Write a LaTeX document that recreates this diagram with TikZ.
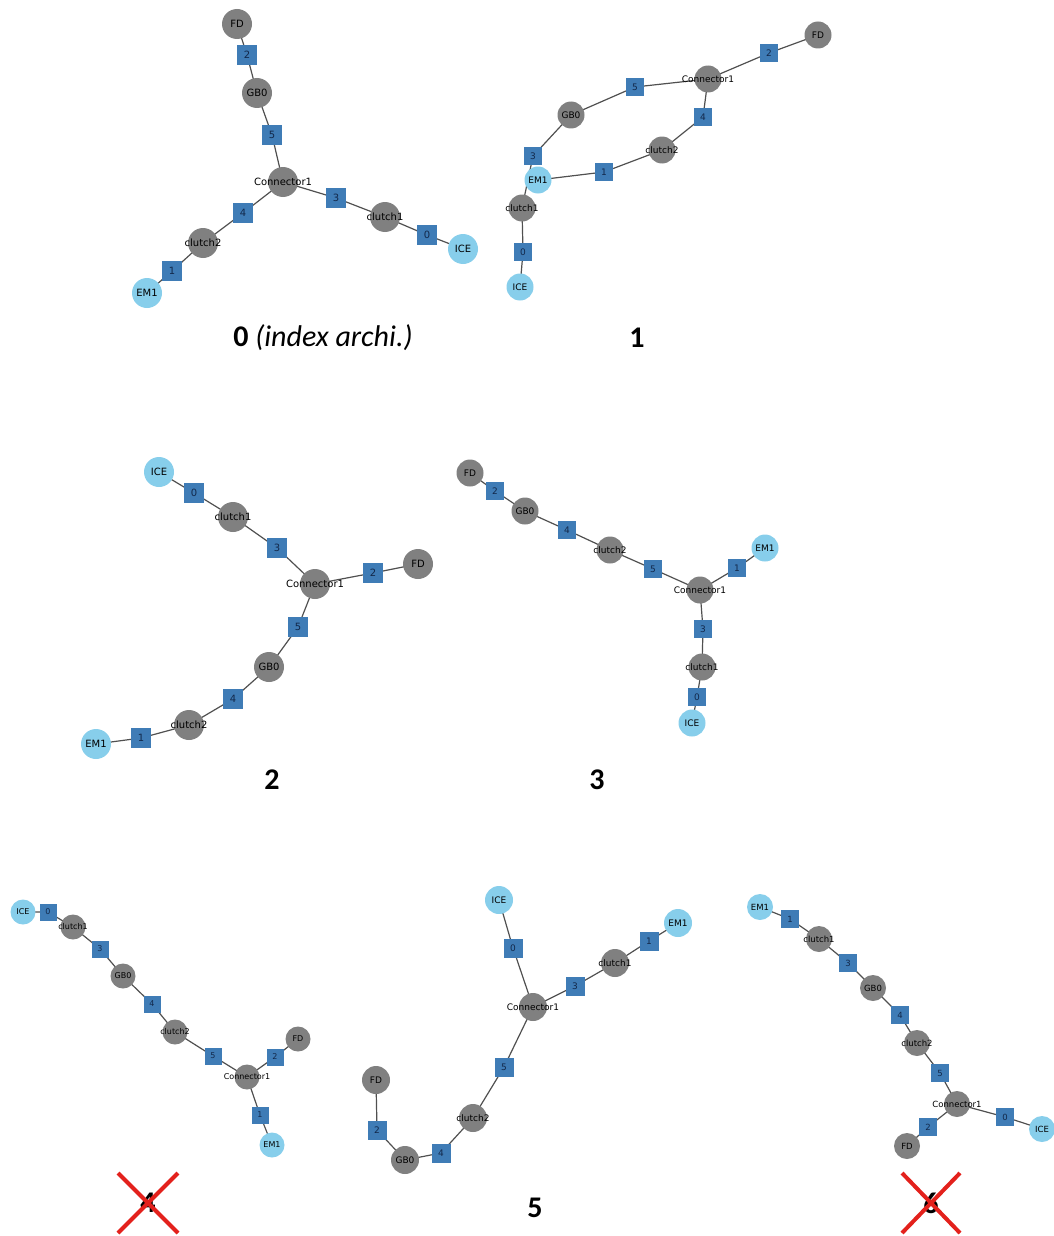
\documentclass[tikz,border=0pt]{standalone}
\usepackage{fontspec}
\setmainfont{Carlito}
\newfontfamily\dvfont{DejaVu Sans}
\usetikzlibrary{backgrounds}
\definecolor{cgray}{HTML}{808080}
\definecolor{csky}{HTML}{87CEEB}
\definecolor{cport}{HTML}{3F7CB6}
\definecolor{cedge}{HTML}{505050}
\definecolor{cporttext}{HTML}{12284A}
\definecolor{cred}{HTML}{E3211C}
\def\nodesz{28pt}
\def\portsz{19pt}
\def\nfs{8.5}
\newcommand\nt[1]{\makebox[0pt][c]{#1}}
\tikzset{
  base/.style={circle,inner sep=0pt,minimum size=\nodesz,text=black,font=\dvfont\fontsize{\nfs}{\nfs}\selectfont},
  comp/.style={base,fill=cgray},
  src/.style={base,fill=csky},
  port/.style={rectangle,fill=cport,inner sep=0pt,minimum size=\portsz,text=cporttext,font=\dvfont\fontsize{\nfs}{\nfs}\selectfont},
  edge/.style={draw=cedge,line width=1.2pt},
  title/.style={font=\fontsize{30}{30}\selectfont,text=black},
  cross/.style={draw=cred,line width=4pt},
}
\begin{document}
\begin{tikzpicture}[x=1pt,y=-1pt]
\useasboundingbox (0,0) rectangle (1054,1236);

% ---------- graph 0 ----------
\begin{scope}
\def\nodesz{30pt}\def\portsz{20pt}\def\nfs{10}
\node[comp] (a-fd) at (237,24) {\nt{FD}};
\node[port] (a-p2) at (247,55) {2};
\node[comp] (a-gb) at (257,93) {\nt{GB0}};
\node[port] (a-p5) at (272,135) {5};
\node[comp] (a-con) at (283,182) {\nt{Connector1}};
\node[port] (a-p3) at (336,198) {3};
\node[comp] (a-c1) at (385,217) {\nt{clutch1}};
\node[port] (a-p0) at (427,235) {0};
\node[src] (a-ice) at (463,249) {\nt{ICE}};
\node[port] (a-p4) at (243,213) {4};
\node[comp] (a-c2) at (203,243) {\nt{clutch2}};
\node[port] (a-p1) at (172,271) {1};
\node[src] (a-em) at (147,293) {\nt{EM1}};
\end{scope}

% ---------- graph 1 ----------
\begin{scope}
\def\nodesz{27pt}\def\portsz{18pt}\def\nfs{9}
\node[comp] (b-fd) at (818,35) {\nt{FD}};
\node[port] (b-p2) at (769,53) {2};
\node[comp] (b-con) at (708,79) {\nt{Connector1}};
\node[port] (b-p5) at (635,87) {5};
\node[comp] (b-gb) at (571,115) {\nt{GB0}};
\node[port] (b-p4) at (703,117) {4};
\node[comp] (b-c2) at (662,150) {\nt{clutch2}};
\node[port] (b-p1) at (604,172) {1};
\node[port] (b-p3) at (533,156) {3};
\node[comp] (b-c1) at (522,208) {\nt{clutch1}};
\node[src] (b-em) at (538,180) {\nt{EM1}};
\node[port] (b-p0) at (523,252) {0};
\node[src] (b-ice) at (520,287) {\nt{ICE}};
\end{scope}

% ---------- graph 2 ----------
\begin{scope}
\def\nodesz{30pt}\def\portsz{20pt}\def\nfs{10}
\node[src] (c-ice) at (159,472) {\nt{ICE}};
\node[port] (c-p0) at (194,493) {0};
\node[comp] (c-c1) at (233,517) {\nt{clutch1}};
\node[port] (c-p3) at (277,548) {3};
\node[comp] (c-con) at (315,584) {\nt{Connector1}};
\node[port] (c-p2) at (373,573) {2};
\node[comp] (c-fd) at (418,564) {\nt{FD}};
\node[port] (c-p5) at (298,627) {5};
\node[comp] (c-gb) at (269,667) {\nt{GB0}};
\node[port] (c-p4) at (233,699) {4};
\node[comp] (c-c2) at (189,725) {\nt{clutch2}};
\node[port] (c-p1) at (141,738) {1};
\node[src] (c-em) at (96,744) {\nt{EM1}};
\end{scope}

% ---------- graph 3 ----------
\begin{scope}
\def\nodesz{27pt}\def\portsz{18pt}\def\nfs{9}
\node[comp] (d-fd) at (470,473) {\nt{FD}};
\node[port] (d-p2) at (495,491) {2};
\node[comp] (d-gb) at (525,511) {\nt{GB0}};
\node[port] (d-p4) at (567,530) {4};
\node[comp] (d-c2) at (610,550) {\nt{clutch2}};
\node[port] (d-p5) at (653,569) {5};
\node[comp] (d-con) at (700,590) {\nt{Connector1}};
\node[port] (d-p1) at (737,568) {1};
\node[src] (d-em) at (765,548) {\nt{EM1}};
\node[port] (d-p3) at (703,629) {3};
\node[comp] (d-c1) at (702,667) {\nt{clutch1}};
\node[port] (d-p0) at (697,697) {0};
\node[src] (d-ice) at (692,723) {\nt{ICE}};
\end{scope}

% ---------- graph 4 ----------
\begin{scope}
\def\nodesz{25pt}\def\portsz{17pt}\def\nfs{8}
\node[src] (e-ice) at (23,912) {\nt{ICE}};
\node[port] (e-p0) at (48,912) {0};
\node[comp] (e-c1) at (73,927) {\nt{clutch1}};
\node[port] (e-p3) at (100,949) {3};
\node[comp] (e-gb) at (123,976) {\nt{GB0}};
\node[port] (e-p4) at (152,1004) {4};
\node[comp] (e-c2) at (175,1032) {\nt{clutch2}};
\node[port] (e-p5) at (213,1056) {5};
\node[comp] (e-con) at (247,1077) {\nt{Connector1}};
\node[port] (e-p2) at (275,1057) {2};
\node[comp] (e-fd) at (298,1039) {\nt{FD}};
\node[port] (e-p1) at (260,1115) {1};
\node[src] (e-em) at (272,1145) {\nt{EM1}};
\end{scope}

% ---------- graph 5 ----------
\begin{scope}
\def\nodesz{28pt}\def\portsz{19pt}\def\nfs{9}
\node[src] (f-ice) at (499,900) {\nt{ICE}};
\node[port] (f-p0) at (513,948) {0};
\node[comp] (f-con) at (533,1007) {\nt{Connector1}};
\node[port] (f-p3) at (575,986) {3};
\node[comp] (f-c1) at (615,963) {\nt{clutch1}};
\node[port] (f-p1) at (649,941) {1};
\node[src] (f-em) at (678,923) {\nt{EM1}};
\node[port] (f-p5) at (504,1067) {5};
\node[comp] (f-c2) at (473,1118) {\nt{clutch2}};
\node[port] (f-p4) at (441,1153) {4};
\node[comp] (f-gb) at (405,1160) {\nt{GB0}};
\node[port] (f-p2) at (377,1130) {2};
\node[comp] (f-fd) at (376,1080) {\nt{FD}};
\end{scope}

% ---------- graph 6 ----------
\begin{scope}
\def\nodesz{26pt}\def\portsz{18pt}\def\nfs{8.5}
\node[src] (g-em) at (760,907) {\nt{EM1}};
\node[port] (g-p1) at (790,919) {1};
\node[comp] (g-c1) at (819,939) {\nt{clutch1}};
\node[port] (g-p3) at (848,963) {3};
\node[comp] (g-gb) at (873,988) {\nt{GB0}};
\node[port] (g-p4) at (900,1015) {4};
\node[comp] (g-c2) at (917,1043) {\nt{clutch2}};
\node[port] (g-p5) at (940,1073) {5};
\node[comp] (g-con) at (957,1104) {\nt{Connector1}};
\node[port] (g-p0) at (1005,1117) {0};
\node[src] (g-ice) at (1042,1129) {\nt{ICE}};
\node[port] (g-p2) at (928,1127) {2};
\node[comp] (g-fd) at (907,1146) {\nt{FD}};
\end{scope}

% ---------- edges ----------
\begin{pgfonlayer}{background}
\draw[edge] (a-fd.center) -- (a-p2.center) -- (a-gb.center) -- (a-p5.center) -- (a-con.center) -- (a-p3.center) -- (a-c1.center) -- (a-p0.center) -- (a-ice.center);
\draw[edge] (a-con.center) -- (a-p4.center) -- (a-c2.center) -- (a-p1.center) -- (a-em.center);

\draw[edge] (b-fd.center) -- (b-p2.center) -- (b-con.center) -- (b-p5.center) -- (b-gb.center) -- (b-p3.center) -- (b-c1.center) -- (b-p0.center) -- (b-ice.center);
\draw[edge] (b-con.center) -- (b-p4.center) -- (b-c2.center) -- (b-p1.center) -- (b-em.center);

\draw[edge] (c-ice.center) -- (c-p0.center) -- (c-c1.center) -- (c-p3.center) -- (c-con.center) -- (c-p2.center) -- (c-fd.center);
\draw[edge] (c-con.center) -- (c-p5.center) -- (c-gb.center) -- (c-p4.center) -- (c-c2.center) -- (c-p1.center) -- (c-em.center);

\draw[edge] (d-fd.center) -- (d-p2.center) -- (d-gb.center) -- (d-p4.center) -- (d-c2.center) -- (d-p5.center) -- (d-con.center) -- (d-p1.center) -- (d-em.center);
\draw[edge] (d-con.center) -- (d-p3.center) -- (d-c1.center) -- (d-p0.center) -- (d-ice.center);

\draw[edge] (e-ice.center) -- (e-p0.center) -- (e-c1.center) -- (e-p3.center) -- (e-gb.center) -- (e-p4.center) -- (e-c2.center) -- (e-p5.center) -- (e-con.center) -- (e-p2.center) -- (e-fd.center);
\draw[edge] (e-con.center) -- (e-p1.center) -- (e-em.center);

\draw[edge] (f-ice.center) -- (f-p0.center) -- (f-con.center) -- (f-p3.center) -- (f-c1.center) -- (f-p1.center) -- (f-em.center);
\draw[edge] (f-con.center) -- (f-p5.center) -- (f-c2.center) -- (f-p4.center) -- (f-gb.center) -- (f-p2.center) -- (f-fd.center);

\draw[edge] (g-em.center) -- (g-p1.center) -- (g-c1.center) -- (g-p3.center) -- (g-gb.center) -- (g-p4.center) -- (g-c2.center) -- (g-p5.center) -- (g-con.center) -- (g-p0.center) -- (g-ice.center);
\draw[edge] (g-con.center) -- (g-p2.center) -- (g-fd.center);
\end{pgfonlayer}

% ---------- titles ----------
\node[title] (t0) at (323,338) {\textbf{0} \textit{(index archi.)}};
\node[title] (t1) at (637,338) {\textbf{1}};
\node[title] (t2) at (272,780) {\textbf{2}};
\node[title] (t3) at (597,780) {\textbf{3}};
\node[title] (t4) at (148,1203) {\textbf{4}};
\node[title] (t5) at (535,1208) {\textbf{5}};
\node[title] (t6) at (931,1203) {\textbf{6}};
\draw[cross] (118,1173) -- (178,1233) (118,1233) -- (178,1173);
\draw[cross] (902,1173) -- (960,1233) (902,1233) -- (960,1173);
\end{tikzpicture}
\end{document}
